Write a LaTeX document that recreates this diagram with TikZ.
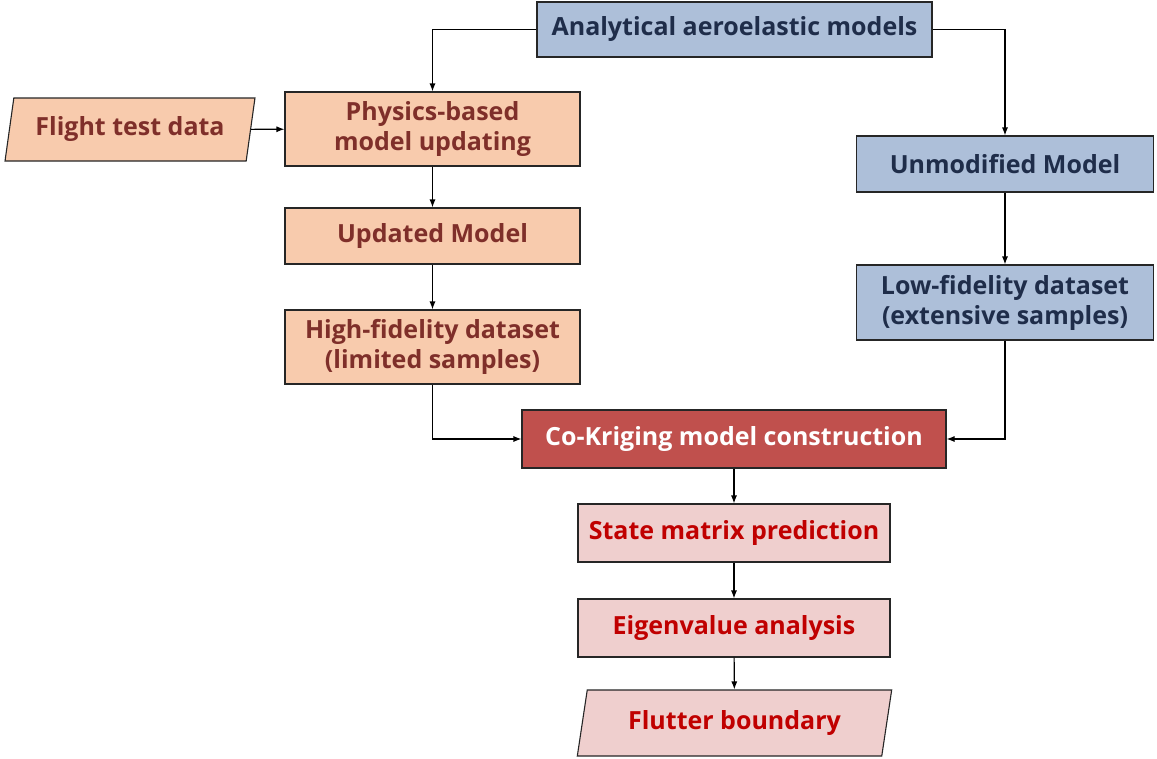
\documentclass[tikz,border=0pt]{standalone}
\usepackage{fontspec}
\setmainfont{Open Sans}
\usetikzlibrary{arrows.meta,shapes.geometric}

\definecolor{bluefill}{HTML}{ADBFD9}
\definecolor{bluetext}{HTML}{1F2D4A}
\definecolor{peachfill}{HTML}{F8CBAD}
\definecolor{peachtext}{HTML}{7F2F2A}
\definecolor{redfill}{HTML}{C0504D}
\definecolor{pinkfill}{HTML}{EFCFCE}
\definecolor{pinktext}{HTML}{C00000}

\tikzset{
  box/.style={draw=black!85, line width=1.1pt, align=center, inner sep=0pt,
    font=\fontsize{25}{30}\selectfont\bfseries},
  blue/.style={box, fill=bluefill, text=bluetext},
  peach/.style={box, fill=peachfill, text=peachtext},
  red/.style={box, fill=redfill, text=white},
  pink/.style={box, fill=pinkfill, text=pinktext},
  slanted/.style={trapezium, trapezium left angle=74, trapezium right angle=106,
    trapezium stretches=true},
  link/.style={draw, line width=1.1pt, -{Latex[length=8pt,width=6pt]}}
}

\begin{document}
\begin{tikzpicture}[x=1pt,y=-1pt]
\useasboundingbox (0,0) rectangle (1157,758);

% left branch
\node[blue, minimum width=395, minimum height=55] (ana) at (734.5,29.5) {Analytical aeroelastic models};
\node[peach, minimum width=295, minimum height=74] (phys) at (432.5,129) {Physics-based\\model updating};
\node[peach, slanted, minimum width=250, minimum height=63] (flight) at (130,129.5) {Flight test data};
\node[peach, minimum width=295, minimum height=56] (upd) at (432.5,236) {Updated Model};
\node[peach, minimum width=295, minimum height=74] (hf) at (432.5,347) {High-fidelity dataset\\(limited samples)};

% right branch
\node[blue, minimum width=297, minimum height=56] (unm) at (1005,164) {Unmodified Model};
\node[blue, minimum width=297, minimum height=75] (lf) at (1005,302.5) {Low-fidelity dataset\\(extensive samples)};

% surrogate and flutter prediction
\node[red, minimum width=424, minimum height=58] (cok) at (734,439) {Co-Kriging model construction};
\node[pink, minimum width=312, minimum height=58] (smp) at (734,533) {State matrix prediction};
\node[pink, minimum width=312, minimum height=58] (eig) at (734,628) {Eigenvalue analysis};
\node[pink, slanted, minimum width=315, minimum height=66] (flut) at (734.5,723) {Flutter boundary};

\draw[link] (ana.west) -| (phys.north);
\draw[link] (ana.east) -| (unm.north);
\draw[link] (flight) -- (phys);
\draw[link] (phys) -- (upd);
\draw[link] (upd) -- (hf);
\draw[link] (unm) -- (lf);
\draw[link] (hf.south) |- (cok.west);
\draw[link] (lf.south) |- (cok.east);
\draw[link] (cok) -- (smp);
\draw[link] (smp) -- (eig);
\draw[link] (eig) -- (flut);
\end{tikzpicture}
\end{document}
